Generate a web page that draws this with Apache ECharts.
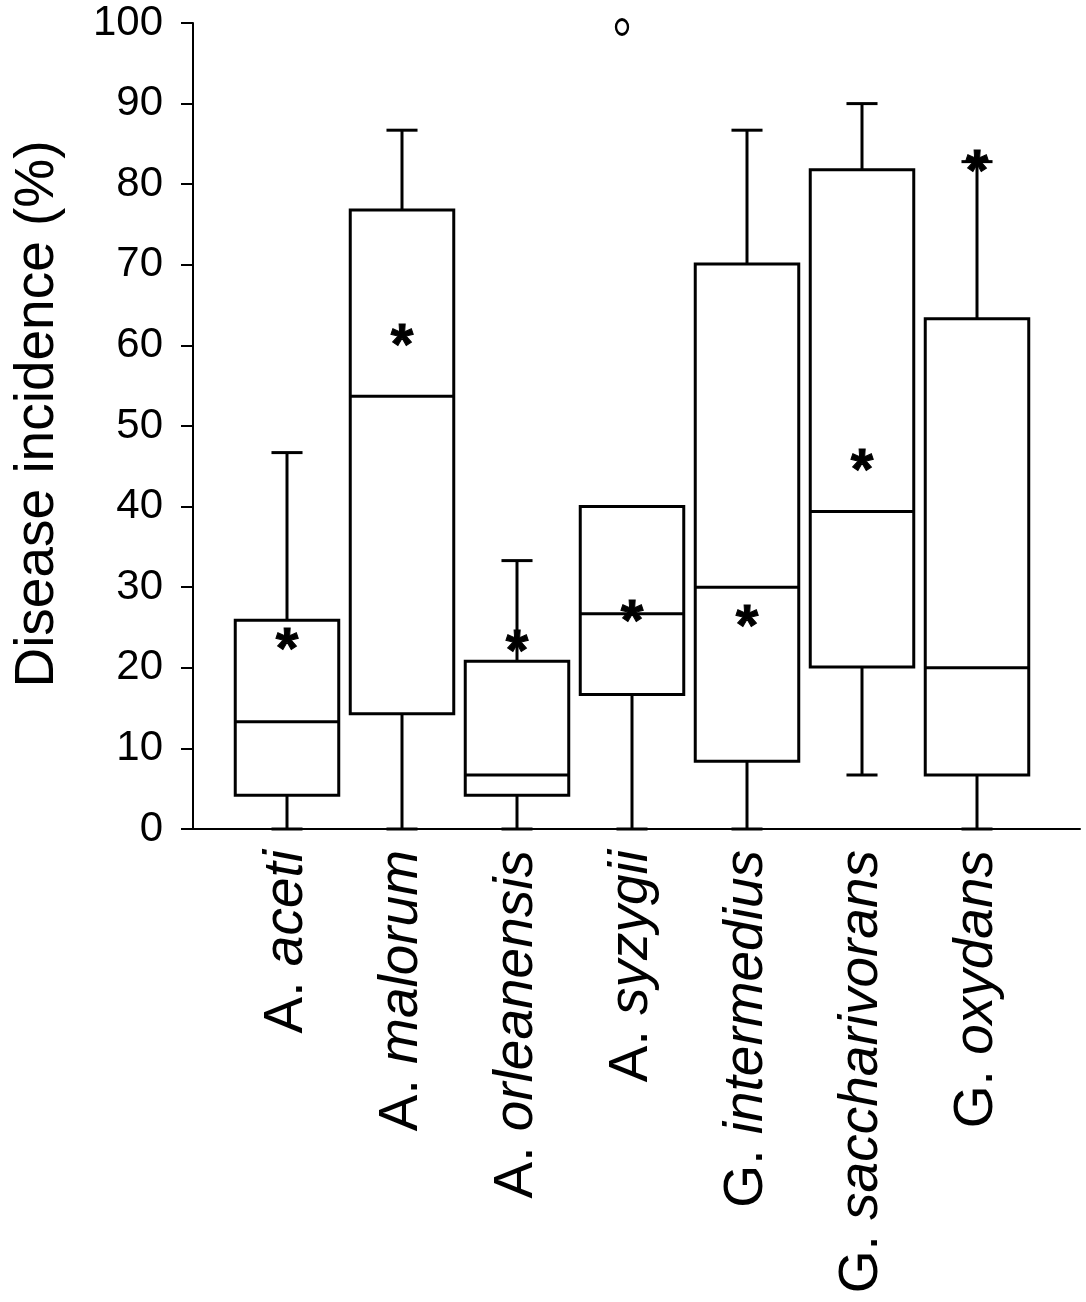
<!DOCTYPE html>
<html>
<head>
<meta charset="utf-8">
<script src="https://cdn.jsdelivr.net/npm/echarts@6/dist/echarts.min.js"></script>
<style>
  html, body { margin: 0; padding: 0; background: #fff; }
  #chart { width: 1086px; height: 1302px; }
</style>
</head>
<body>
<div id="chart"></div>
<script>
// species on the x axis
const categories = ['A. aceti', 'A. malorum', 'A. orleanensis', 'A. syzygii',
  'G. intermedius', 'G. saccharivorans', 'G. oxydans']
// box plot values (% disease incidence)
const whiskerLow = [0, 0, 0, 0, 0, 6.7, 0]
const q1 = [4.2, 14.3, 4.2, 16.7, 8.4, 20.1, 6.7]
const median = [13.3, 53.7, 6.7, 26.7, 30.0, 39.4, 20.0]
const q3 = [25.9, 76.8, 20.8, 40.0, 70.1, 81.8, 63.3]
const whiskerHigh = [46.7, 86.7, 33.3, 40.0, 86.7, 90.0, 82.8]
// means drawn as asterisks
const means = [23.4, 61.2, 23.2, 26.9, 26.3, 45.6, 82.8]
// outliers: [category index, value]
const outliers = [[3, 99.5]]
const yTicks = [0, 10, 20, 30, 40, 50, 60, 70, 80, 90, 100]

const font = "'Liberation Sans', Arial, sans-serif"

const boxData = categories.map((c, i) => [i, whiskerLow[i], q1[i], median[i], q3[i], whiskerHigh[i]])
const meanData = means.map((m, i) => [i, m])

function renderBox(params, api) {
    const i = api.value(0)
    const pLo = api.coord([i, api.value(1)])
    const pQ1 = api.coord([i, api.value(2)])
    const pMed = api.coord([i, api.value(3)])
    const pQ3 = api.coord([i, api.value(4)])
    const pHi = api.coord([i, api.value(5)])
    const band = api.size([1, 0])[0]
    const bw = band * 0.9
    const cw = band * 0.27
    const x = pMed[0]
    const line = { stroke: '#000', lineWidth: 3, fill: null }
    return {
        type: 'group',
        children: [
            // whiskers
            { type: 'line', shape: { x1: x, y1: pQ3[1], x2: x, y2: pHi[1] }, style: line },
            { type: 'line', shape: { x1: x, y1: pQ1[1], x2: x, y2: pLo[1] }, style: line },
            { type: 'line', shape: { x1: x - cw / 2, y1: pHi[1], x2: x + cw / 2, y2: pHi[1] }, style: line },
            { type: 'line', shape: { x1: x - cw / 2, y1: pLo[1], x2: x + cw / 2, y2: pLo[1] }, style: line },
            // box
            { type: 'rect', shape: { x: x - bw / 2, y: pQ3[1], width: bw, height: pQ1[1] - pQ3[1] },
              style: { stroke: '#000', lineWidth: 3, fill: '#fff' } },
            // median
            { type: 'line', shape: { x1: x - bw / 2, y1: pMed[1], x2: x + bw / 2, y2: pMed[1] }, style: line }
        ]
    }
}

const chart = echarts.init(document.getElementById('chart'))
const opt = {
    backgroundColor: '#fff',
    animation: false,
    grid: [
        // plotting grid (category bands)
        { left: 229.5, right: 51.5, top: 23, bottom: 473, containLabel: false, outerBoundsMode: 'none' },
        // axes frame
        { left: 193, right: 6, top: 23, bottom: 473, containLabel: false, outerBoundsMode: 'none' }
    ],
    xAxis: [
        {
            type: 'category', gridIndex: 0, data: categories,
            axisLine: { show: false }, axisTick: { show: false },
            axisLabel: {
                rotate: 90, margin: 21, interval: 0,
                formatter: v => {
                    const k = v.indexOf(' ')
                    return '{g|' + v.slice(0, k) + ' }{s|' + v.slice(k + 1) + '}'
                },
                rich: {
                    g: { fontFamily: font, fontSize: 55, color: '#000' },
                    s: { fontFamily: font, fontSize: 55, fontStyle: 'italic', color: '#000' }
                }
            }
        },
        {
            type: 'value', gridIndex: 1, min: 0, max: 1,
            axisLine: { show: true, lineStyle: { color: '#000', width: 2 } },
            axisTick: { show: false }, axisLabel: { show: false }, splitLine: { show: false }
        }
    ],
    yAxis: [
        {
            type: 'value', gridIndex: 0, min: 0, max: 100,
            axisLine: { show: false }, axisTick: { show: false },
            axisLabel: { show: false }, splitLine: { show: false }
        },
        {
            type: 'value', gridIndex: 1, min: yTicks[0], max: yTicks[yTicks.length - 1], interval: 10,
            name: 'Disease incidence (%)', nameLocation: 'middle', nameGap: 128, nameRotate: 90,
            nameTextStyle: { fontFamily: font, fontSize: 55, color: '#000', padding: [0, 0, 0, 24] },
            axisLine: { show: true, lineStyle: { color: '#000', width: 2 } },
            axisTick: { show: true, inside: false, length: 12, lineStyle: { color: '#000', width: 2 } },
            axisLabel: { margin: 30, fontFamily: font, fontSize: 42, color: '#000' },
            splitLine: { show: false }
        }
    ],
    series: [
        {
            type: 'custom', xAxisIndex: 0, yAxisIndex: 0,
            renderItem: renderBox,
            encode: { x: 0, y: [1, 2, 3, 4, 5] },
            data: boxData, z: 2
        },
        {
            type: 'scatter', xAxisIndex: 0, yAxisIndex: 0,
            symbolSize: 1, itemStyle: { color: 'rgba(0,0,0,0)', opacity: 1 },
            label: {
                show: true, position: 'inside', formatter: '*',
                fontFamily: font, fontSize: 58, fontWeight: 'bold', color: '#000', opacity: 1,
                textBorderColor: '#000', textBorderWidth: 1,
                offset: [0, 12]
            },
            data: meanData, z: 5
        },
        {
            type: 'scatter', xAxisIndex: 0, yAxisIndex: 0,
            symbol: 'circle', symbolSize: [12, 15], symbolOffset: [-10, 0],
            itemStyle: { color: '#fff', borderColor: '#000', borderWidth: 2.6, opacity: 1 },
            data: outliers, z: 5
        }
    ]
}
chart.setOption(opt)
</script>
</body>
</html>
